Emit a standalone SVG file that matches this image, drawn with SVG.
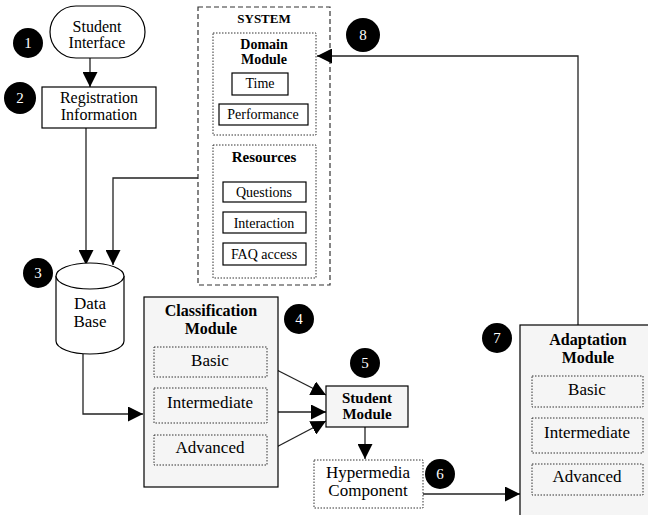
<svg xmlns="http://www.w3.org/2000/svg" width="648" height="515" viewBox="0 0 648 515">
  <style>
    text { font-family: "Liberation Serif", "Times New Roman", serif; fill: #000; text-anchor: middle; }
    .lbl { font-size: 16px; }
    .big { font-size: 17px; }
    .sm { font-size: 14px; }
    .b { font-weight: bold; font-size: 15px; }
    .dm { font-weight: bold; font-size: 14px; }
    .sys { font-weight: bold; font-size: 13px; }
    .bb { font-weight: bold; font-size: 16px; }
    .num { font-size: 15px; fill: #fff; }
    .box { fill: #fff; stroke: #000; stroke-width: 1.2; }
    .mod { fill: #f5f5f5; stroke: #000; stroke-width: 1.2; }
    .dot { fill: none; stroke: #333; stroke-width: 1; stroke-dasharray: 1.5 1.5; }
    .dash { fill: #fff; stroke: #333; stroke-width: 1.2; stroke-dasharray: 5 3; }
    .edge { fill: none; stroke: #222; stroke-width: 1.3; }
    .badge { fill: #000; }
  </style>
  <defs>
    <marker id="arrow" viewBox="0 0 10 10" refX="10" refY="5" markerWidth="15" markerHeight="15" markerUnits="userSpaceOnUse" orient="auto">
      <path d="M0,0 L10,5 L0,10 Z" fill="#000"/>
    </marker>
  </defs>

  <rect width="648" height="515" fill="#fff"/>

  <!-- system container -->
  <g id="system">
    <rect class="dash" x="198" y="7" width="132" height="278"/>
    <text class="sys" x="264" y="23">SYSTEM</text>
  </g>

  <g id="domain-module">
    <rect class="dot" x="213" y="33" width="103" height="102"/>
    <text class="dm" x="264" y="49">Domain</text>
    <text class="dm" x="264" y="64">Module</text>
    <rect class="box" x="232" y="73" width="56" height="22"/>
    <text class="sm" x="260" y="88">Time</text>
    <rect class="box" x="219" y="104" width="89" height="21"/>
    <text class="sm" x="263" y="119">Performance</text>
  </g>

  <g id="resources">
    <rect class="dot" x="213" y="145" width="103" height="133"/>
    <text class="b" x="264" y="162">Resources</text>
    <rect class="box" x="223" y="182" width="83" height="20"/>
    <text class="sm" x="264" y="197">Questions</text>
    <rect class="box" x="223" y="212" width="83" height="21"/>
    <text class="sm" x="264" y="228">Interaction</text>
    <rect class="box" x="223" y="243" width="83" height="22"/>
    <text class="sm" x="264" y="259">FAQ access</text>
  </g>

  <!-- connectors -->
  <g id="connectors">
    <line class="edge" x1="90" y1="58" x2="90" y2="87" marker-end="url(#arrow)"/>
    <line class="edge" x1="86" y1="128" x2="86" y2="265" marker-end="url(#arrow)"/>
    <polyline class="edge" points="198,178 113,178 113,265" marker-end="url(#arrow)"/>
    <polyline class="edge" points="83,354 83,414 143,414" marker-end="url(#arrow)"/>
    <line class="edge" x1="267" y1="365" x2="326" y2="395" marker-end="url(#arrow)"/>
    <line class="edge" x1="267" y1="412" x2="326" y2="412" marker-end="url(#arrow)"/>
    <line class="edge" x1="267" y1="452" x2="326" y2="421" marker-end="url(#arrow)"/>
    <line class="edge" x1="365" y1="427" x2="365" y2="459" marker-end="url(#arrow)"/>
    <line class="edge" x1="423" y1="494" x2="520" y2="494" marker-end="url(#arrow)"/>
    <polyline class="edge" points="578,325 578,56 317,56" marker-end="url(#arrow)"/>
  </g>

  <g id="student-interface">
    <rect class="box" x="50" y="6" width="95" height="52" rx="26" ry="26"/>
    <text class="lbl" x="97" y="32">Student</text>
    <text class="lbl" x="97" y="48">Interface</text>
  </g>

  <g id="registration">
    <rect class="box" x="42" y="87" width="114" height="41"/>
    <text class="lbl" x="99" y="103">Registration</text>
    <text class="lbl" x="99" y="120">Information</text>
  </g>

  <g id="database">
    <path class="box" d="M56,276 L56,341 A34,13 0 0 0 124,341 L124,276"/>
    <ellipse class="box" cx="90" cy="276" rx="34" ry="13"/>
    <text class="big" x="90" y="309">Data</text>
    <text class="big" x="90" y="327">Base</text>
  </g>

  <g id="classification-module">
    <rect class="mod" x="144" y="297" width="134" height="190"/>
    <text class="bb" x="211" y="316">Classification</text>
    <text class="bb" x="211" y="334">Module</text>
    <rect class="dot" x="154" y="347" width="113" height="30"/>
    <text class="big" x="210" y="366">Basic</text>
    <rect class="dot" x="154" y="388" width="113" height="35"/>
    <text class="big" x="210" y="408">Intermediate</text>
    <rect class="dot" x="154" y="435" width="113" height="30"/>
    <text class="big" x="210" y="453">Advanced</text>
  </g>

  <g id="student-module">
    <rect class="mod" x="326" y="386" width="82" height="41"/>
    <text class="b" x="367" y="403">Student</text>
    <text class="b" x="367" y="419">Module</text>
  </g>

  <g id="hypermedia">
    <rect class="dot" x="314" y="460" width="109" height="48"/>
    <text class="big" x="368" y="478">Hypermedia</text>
    <text class="big" x="368" y="496">Component</text>
  </g>

  <g id="adaptation-module">
    <rect class="mod" x="520" y="325" width="140" height="200"/>
    <text class="bb" x="588" y="345">Adaptation</text>
    <text class="bb" x="588" y="363">Module</text>
    <rect class="dot" x="532" y="376" width="111" height="31"/>
    <text class="big" x="587" y="395">Basic</text>
    <rect class="dot" x="532" y="418" width="111" height="35"/>
    <text class="big" x="587" y="438">Intermediate</text>
    <rect class="dot" x="532" y="464" width="111" height="31"/>
    <text class="big" x="587" y="482">Advanced</text>
  </g>

  <!-- step badges -->
  <g id="badges">
    <circle class="badge" cx="28" cy="43" r="15"/><text class="num" x="28" y="48">1</text>
    <circle class="badge" cx="20" cy="98" r="16"/><text class="num" x="20" y="103">2</text>
    <circle class="badge" cx="38" cy="273" r="15"/><text class="num" x="38" y="278">3</text>
    <circle class="badge" cx="299" cy="319" r="15"/><text class="num" x="299" y="324">4</text>
    <circle class="badge" cx="365" cy="363" r="15"/><text class="num" x="365" y="368">5</text>
    <circle class="badge" cx="440" cy="474" r="15"/><text class="num" x="440" y="479">6</text>
    <circle class="badge" cx="497" cy="338" r="15"/><text class="num" x="497" y="343">7</text>
    <circle class="badge" cx="363" cy="35" r="17"/><text class="num" x="363" y="40">8</text>
  </g>
</svg>
